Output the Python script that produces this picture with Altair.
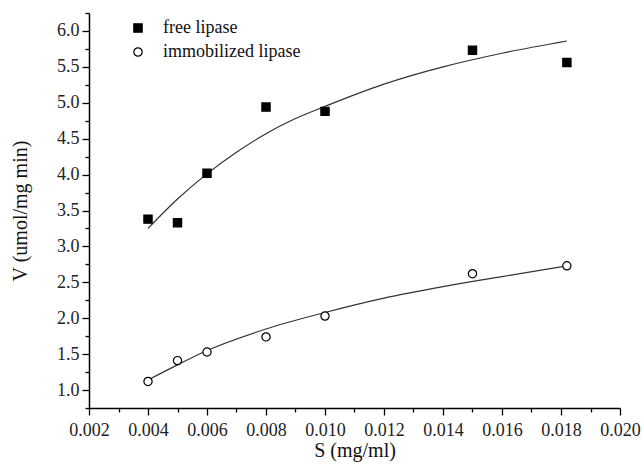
import altair as alt
import pandas as pd

# measured data
s_values = [0.004, 0.005, 0.006, 0.008, 0.010, 0.015, 0.0182]
v_free = [3.38, 3.33, 4.02, 4.94, 4.88, 5.73, 5.56]
v_immob = [1.12, 1.41, 1.53, 1.74, 2.03, 2.62, 2.73]

# fitted curves
fit_s_free = [0.004, 0.005, 0.006, 0.007, 0.008, 0.009, 0.010, 0.012, 0.014, 0.016, 0.0182]
fit_v_free = [3.25, 3.66, 4.01, 4.31, 4.57, 4.78, 4.95, 5.26, 5.50, 5.69, 5.86]
fit_s_immob = [0.004, 0.005, 0.006, 0.008, 0.010, 0.012, 0.014, 0.016, 0.0182]
fit_v_immob = [1.14, 1.35, 1.55, 1.85, 2.08, 2.28, 2.44, 2.58, 2.73]

series_names = ["free lipase", "immobilized lipase"]
x_ticks = [round(0.002 + 0.001 * i, 3) for i in range(19)]
y_ticks = [round(0.75 + 0.25 * i, 2) for i in range(23)]

pts = pd.DataFrame(
    {"S": s_values * 2,
     "V": v_free + v_immob,
     "series": [series_names[0]] * len(s_values) + [series_names[1]] * len(s_values)}
)
fits = pd.DataFrame(
    {"S": fit_s_free + fit_s_immob,
     "V": fit_v_free + fit_v_immob,
     "series": [series_names[0]] * len(fit_s_free) + [series_names[1]] * len(fit_s_immob)}
)

FONT = "Liberation Serif"

x_enc = alt.X(
    "S:Q",
    scale=alt.Scale(domain=[0.002, 0.020], nice=False, zero=False),
    axis=alt.Axis(
        title="S (mg/ml)",
        values=x_ticks,
        labelExpr="abs(round(datum.value*500) - datum.value*500) < 1e-6 ? format(datum.value, '.3f') : ''",
        tickSize={"expr": "abs(round(datum.value*500) - datum.value*500) < 1e-6 ? 7 : 4"},
        grid=False,
        labelOverlap=False,
        labelFlush=False,
        labelPadding=6,
        titlePadding=1,
    ),
)
y_enc = alt.Y(
    "V:Q",
    scale=alt.Scale(domain=[0.75, 6.25], nice=False, zero=False),
    axis=alt.Axis(
        title="V (umol/mg min)",
        values=y_ticks,
        labelExpr="abs(round(datum.value*2) - datum.value*2) < 1e-6 ? format(datum.value, '.1f') : ''",
        tickSize={"expr": "abs(round(datum.value*2) - datum.value*2) < 1e-6 ? 7 : 4"},
        grid=False,
        labelOverlap=False,
        labelFlush=False,
        labelPadding=3,
        titlePadding=26,
    ),
)

lines = alt.Chart(fits).mark_line(color="#333333", strokeWidth=1.2, interpolate="monotone").encode(
    x=x_enc, y=y_enc, detail="series:N"
)

legend_opts = dict(title=None, orient="none", legendX=40, legendY=6,
                   symbolStrokeColor="black", symbolStrokeWidth=1.2,
                   symbolSize=70, labelFontSize=18, labelFont=FONT,
                   labelColor="#111111", labelOffset=16, rowPadding=6,
                   padding=0)

points = alt.Chart(pts).mark_point(filled=False, strokeWidth=1.2, opacity=1).encode(
    x=x_enc,
    y=y_enc,
    shape=alt.Shape("series:N", scale=alt.Scale(domain=series_names, range=["square", "circle"]),
                    legend=alt.Legend(**legend_opts)),
    fill=alt.Fill("series:N", scale=alt.Scale(domain=series_names, range=["black", "white"]),
                  legend=alt.Legend(**legend_opts)),
    stroke=alt.Stroke("series:N", scale=alt.Scale(domain=series_names, range=["black", "black"]),
                      legend=alt.Legend(**legend_opts)),
    size=alt.value(68),
)

chart = alt.layer(lines, points).properties(
    width=531, height=395,
    autosize=alt.AutoSizeParams(type="none"),
    padding={"left": 89, "top": 13, "right": 23, "bottom": 57},
    background="white",
).configure_view(stroke=None).configure_axis(
    domainColor="black", domainWidth=1.5, tickColor="black", tickWidth=1.3,
    labelFont=FONT, labelFontSize=18, labelColor="#222222",
    titleFont=FONT, titleFontSize=20, titleFontWeight="normal", titleColor="#111111",
)

chart.save("out.html", embed_options={"renderer": "svg", "actions": False})
